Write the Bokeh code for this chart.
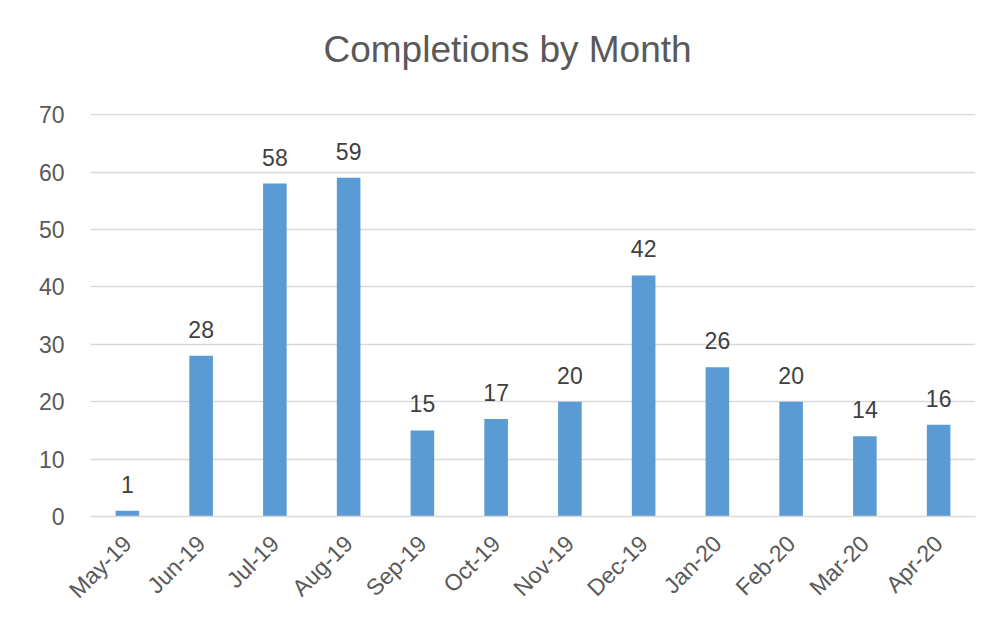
from bokeh.plotting import figure
from bokeh.models import Range1d, FixedTicker, ColumnDataSource, Title
from bokeh.core.properties import value
from bokeh.embed import file_html
from bokeh.resources import INLINE
import math

months = ["May-19", "Jun-19", "Jul-19", "Aug-19", "Sep-19", "Oct-19",
          "Nov-19", "Dec-19", "Jan-20", "Feb-20", "Mar-20", "Apr-20"]
completions = [1, 28, 58, 59, 15, 17, 20, 42, 26, 20, 14, 16]
y_ticks = [0, 10, 20, 30, 40, 50, 60, 70]
title_text = "Completions by Month"

FONT = "Liberation Sans"
src = ColumnDataSource(dict(m=months, v=completions, t=[str(v) for v in completions]))

p = figure(x_range=months, y_range=Range1d(0, 70.2), width=994, height=631,
           output_backend="svg", toolbar_location=None,
           min_border_left=90, min_border_right=19, min_border_top=113, min_border_bottom=115,
           background_fill_color="white", border_fill_color="white")
p.outline_line_color = None

# small spacer panel between the plot area and the title
p.add_layout(Title(text=" ", text_font_size="1px", standoff=12), "above")

p.title.text = title_text
p.title.text_font = FONT
p.title.text_font_size = "37px"
p.title.text_font_style = "normal"
p.title.text_color = "#595959"
p.title.align = "left"
p.title.offset = 233
p.title.vertical_align = "top"
p.title.standoff = 54

p.vbar(x="m", top="v", width=0.32, source=src, fill_color="#5B9BD5", line_color=None)
p.text(x="m", y="v", text="t", source=src, text_font=value(FONT), text_font_size="23px",
       text_color="#404040", text_align="center", text_baseline="bottom", y_offset=-18)

p.x_range.range_padding = 0

p.yaxis.ticker = FixedTicker(ticks=y_ticks)
p.yaxis.axis_line_color = None
p.yaxis.major_tick_line_color = None
p.yaxis.minor_tick_line_color = None
p.yaxis.major_label_text_font = FONT
p.yaxis.major_label_text_font_size = "23px"
p.yaxis.major_label_text_color = "#595959"
p.yaxis.major_label_standoff = 20

p.xaxis.axis_line_color = "#d9d9d9"
p.xaxis.axis_line_width = 1.5
p.xaxis.major_tick_line_color = None
p.xaxis.minor_tick_line_color = None
p.xaxis.major_label_text_font = FONT
p.xaxis.major_label_text_font_size = "23px"
p.xaxis.major_label_text_color = "#595959"
p.xaxis.major_label_orientation = math.pi / 4
p.xaxis.major_label_standoff = 17

p.xgrid.grid_line_color = None
p.ygrid.grid_line_color = "#d9d9d9"
p.ygrid.grid_line_width = 1.5

open("out.html", "w").write(file_html(p, INLINE))
